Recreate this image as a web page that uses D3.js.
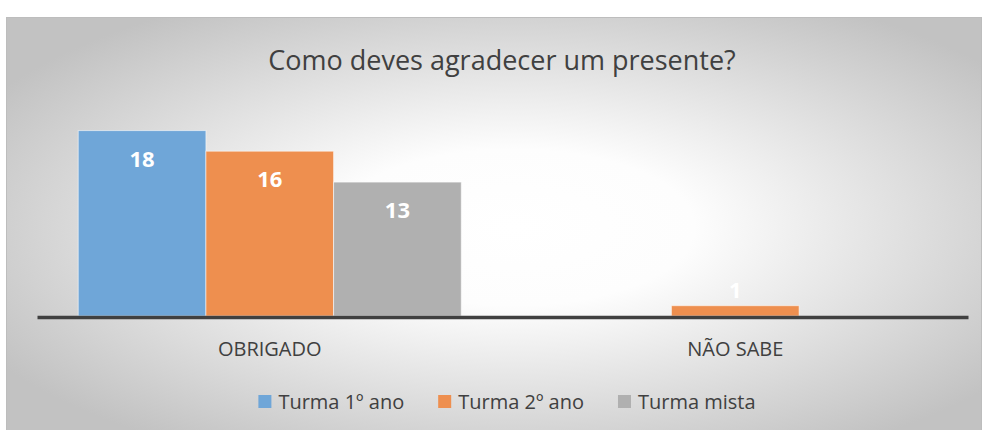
<!DOCTYPE html>
<html>
<head>
<meta charset="utf-8">
<script src="https://cdn.jsdelivr.net/npm/d3@7"></script>
<style>
  body { margin: 0; background: #fff; }
  svg { display: block; font-family: "Open Sans", sans-serif; }
</style>
</head>
<body>
<div id="chart"></div>
<script>
//data
const categories = ["OBRIGADO", "NÃO SABE"];
const seriesNames = ["Turma 1º ano", "Turma 2º ano", "Turma mista"];
const turma1 = [18, 0];
const turma2 = [16, 1];
const mista = [13, 0];
const colors = ["#6fa6d8", "#ee8f4f", "#b0b0b0"];

let width = 983,
    height = 430,
    margin = ({ top: 110, right: 15, bottom: 114, left: 37 });

const svg = d3.select("#chart")
  .append("svg")
  .attr("width", width)
  .attr("height", height);

//background gradient
const grad = svg.append("defs").append("radialGradient")
  .attr("id", "bg")
  .attr("cx", "52%").attr("cy", "50%").attr("r", "62%");
grad.append("stop").attr("offset", "0%").attr("stop-color", "#ffffff");
grad.append("stop").attr("offset", "30%").attr("stop-color", "#fdfdfd");
grad.append("stop").attr("offset", "100%").attr("stop-color", "#c2c2c2");

svg.append("rect")
  .attr("x", 6.5).attr("y", 17.5)
  .attr("width", 975).attr("height", 420)
  .attr("fill", "url(#bg)")
  .attr("stroke", "#bdbdbd")
  .attr("stroke-width", 1);

svg.append("text")
  .attr("x", 502).attr("y", 70)
  .attr("text-anchor", "middle")
  .attr("font-size", 27)
  .attr("fill", "#404040")
  .text("Como deves agradecer um presente?");

const data = categories.map((c, i) => ({
  cat: c,
  values: [turma1[i], turma2[i], mista[i]]
}));

let x0 = d3.scaleBand()
  .domain(categories)
  .range([margin.left, width - margin.right])
  .padding(0);

let x1 = d3.scaleBand()
  .domain(d3.range(seriesNames.length))
  .range([0, x0.bandwidth()])
  .paddingInner(0)
  .paddingOuter(0.323);

let y = d3.scaleLinear()
  .domain([0, 20])
  .range([316, margin.top]);

const groups = svg.append("g")
  .selectAll("g")
  .data(data)
  .join("g")
  .attr("transform", d => `translate(${x0(d.cat)},0)`);

groups.selectAll("rect")
  .data(d => d.values.map((v, i) => ({ v, i })).filter(e => e.v > 0))
  .join("rect")
  .attr("x", e => x1(e.i))
  .attr("y", e => y(e.v))
  .attr("width", x1.bandwidth())
  .attr("height", e => y(0) - y(e.v))
  .attr("fill", e => colors[e.i])
  .attr("stroke", "rgba(255,255,255,0.55)")
  .attr("stroke-width", 1);

//data labels
groups.selectAll("text")
  .data(d => d.values.map((v, i) => ({ v, i })).filter(e => e.v > 0))
  .join("text")
  .attr("x", e => x1(e.i) + x1.bandwidth() / 2)
  .attr("y", e => (y(0) - y(e.v)) > 40 ? y(e.v) + 36 : y(e.v) - 8)
  .attr("text-anchor", "middle")
  .attr("font-size", 22)
  .attr("font-weight", "bold")
  .attr("fill", "#ffffff")
  .text(e => e.v);

//x axis
const xAxis = svg.append("g")
  .attr("transform", `translate(0,317)`)
  .call(d3.axisBottom(x0).tickSize(0).tickPadding(25));
xAxis.select(".domain")
  .attr("stroke", "#404040")
  .attr("stroke-width", 3.5);
xAxis.selectAll("text")
  .attr("font-family", "Open Sans, sans-serif")
  .attr("font-size", 20)
  .attr("fill", "#404040");

//legend
const legend = svg.append("g");
const items = legend.selectAll("g")
  .data(seriesNames)
  .join("g");
items.append("rect")
  .attr("width", 13).attr("height", 13)
  .attr("y", -14)
  .attr("fill", (d, i) => colors[i]);
items.append("text")
  .attr("x", 20)
  .attr("font-size", 20)
  .attr("fill", "#404040")
  .text(d => d);

let pos = 0;
items.each(function() {
  d3.select(this).attr("transform", `translate(${pos},0)`);
  pos += 20 + d3.select(this).select("text").node().getComputedTextLength() + 34;
});
const total = pos - 34;
legend.attr("transform", `translate(${507 - total / 2},409)`);
</script>
</body>
</html>
